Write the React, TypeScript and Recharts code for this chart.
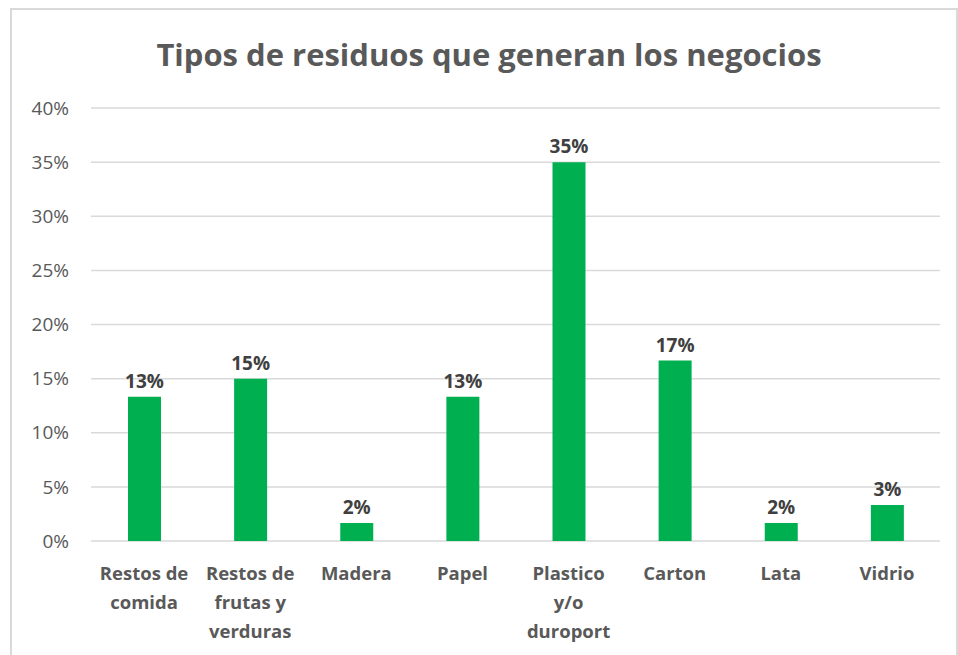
import { BarChart, Bar, XAxis, YAxis, CartesianGrid, LabelList } from "recharts";

const categories = [
	"Restos de comida",
	"Restos de frutas y verduras",
	"Madera",
	"Papel",
	"Plastico y/o duroport",
	"Carton",
	"Lata",
	"Vidrio",
];

// how the category names wrap under the axis
const labelLines = [
	["Restos de", "comida"],
	["Restos de", "frutas y", "verduras"],
	["Madera"],
	["Papel"],
	["Plastico", "y/o", "duroport"],
	["Carton"],
	["Lata"],
	["Vidrio"],
];

const shares = [0.1333, 0.15, 0.0167, 0.1333, 0.35, 0.1667, 0.0167, 0.0333];

const yTicks = [0, 0.05, 0.1, 0.15, 0.2, 0.25, 0.3, 0.35, 0.4];

const data = categories.map((name, i) => ({
	name,
	lines: labelLines[i],
	value: shares[i],
}));

const FONT = "'Open Sans', sans-serif";

const pct = (v: number) => `${Math.round(v * 100)}%`;

function CategoryTick(props: any) {
	const { x, y, payload } = props;
	const lines = labelLines[payload.index] ?? [payload.value];
	return (
		<g transform={`translate(${x},${y})`}>
			{lines.map((line: string, i: number) => (
				<text
					key={i}
					x={0}
					y={i * 29}
					dy={31}
					textAnchor="middle"
					fill="#595959"
					fontSize={18.5}
					fontWeight={700}
					fontFamily={FONT}
				>
					{line}
				</text>
			))}
		</g>
	);
}

export default function App() {
	return (
		<div
			style={{
				position: "absolute",
				left: 0,
				top: 0,
				width: 958,
				height: 655,
				background: "#fff",
				overflow: "hidden",
			}}
		>
			<div
				style={{
					position: "absolute",
					left: 10,
					top: 8,
					width: 944,
					height: 700,
					border: "2px solid #d9d9d9",
				}}
			/>
			<div
				style={{
					position: "absolute",
					left: 0,
					top: 33,
					width: 978,
					textAlign: "center",
					fontFamily: FONT,
					fontWeight: 700,
					fontSize: 31,
					color: "#595959",
				}}
			>
				Tipos de residuos que generan los negocios
			</div>
			<div style={{ position: "absolute", left: 0, top: 0 }}>
				<BarChart
					width={958}
					height={655}
					data={data}
					margin={{ top: 108, right: 18, bottom: 14, left: 0 }}
				>
					<CartesianGrid vertical={false} stroke="#d9d9d9" strokeWidth={1.5} />
					<XAxis
						dataKey="name"
						axisLine={false}
						tickLine={false}
						height={100}
						interval={0}
						tick={<CategoryTick />}
					/>
					<YAxis
						width={91}
						domain={[0, 0.4]}
						ticks={yTicks}
						tickFormatter={pct}
						axisLine={false}
						tickLine={false}
						tickMargin={16}
						tick={{ fill: "#595959", fontSize: 19, fontFamily: FONT }}
					/>
					<Bar dataKey="value" fill="#00b050" barSize={33} isAnimationActive={false}>
						<LabelList
							dataKey="value"
							position="top"
							offset={9}
							formatter={(v: any) => pct(Number(v))}
							fill="#404040"
							fontSize={19}
							fontWeight={700}
							fontFamily={FONT}
						/>
					</Bar>
				</BarChart>
			</div>
		</div>
	);
}
